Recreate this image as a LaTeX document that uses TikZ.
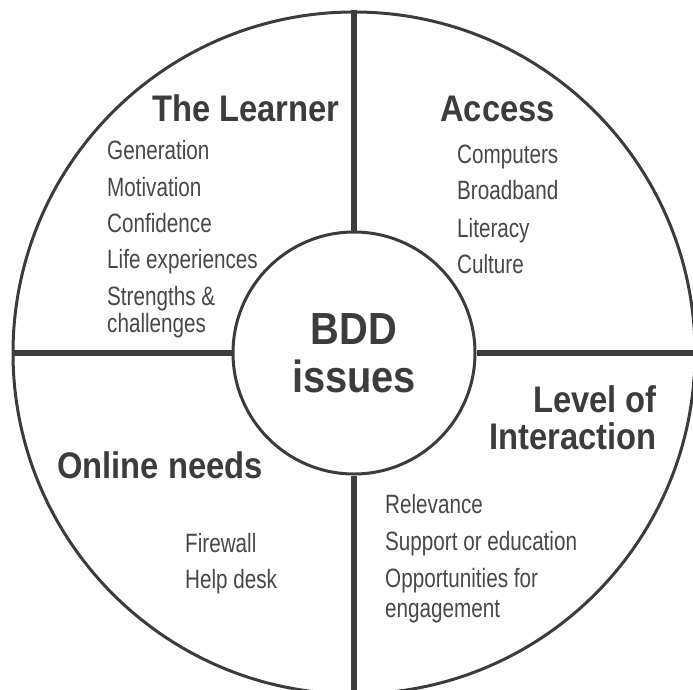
\documentclass[tikz,border=0pt]{standalone}
\usepackage{fontspec}
\usepackage{xcolor}
\setmainfont{Liberation Sans}
\newfontfamily\headfont[FakeStretch=0.885]{Liberation Sans}
\newfontfamily\itemfont[FakeStretch=0.78]{Liberation Sans}
\definecolor{ink}{HTML}{3C3C3C}
\definecolor{itemgray}{HTML}{484848}

\begin{document}
\begin{tikzpicture}[x=1pt,y=-1pt]
\tikzstyle{every node}+=[inner sep=0pt]
\tikzset{
  ring/.style={draw=ink, line width=3pt, circle},
  divider/.style={draw=ink, line width=5.5pt},
  head/.style={anchor=base west, text=ink, font=\headfont\bfseries\fontsize{37}{39}\selectfont},
  item/.style={anchor=base west, text=itemgray, font=\itemfont\fontsize{26.5}{30}\selectfont}
}
\useasboundingbox (0,0) rectangle (693,690);
% circles
\node [ring, minimum size=682pt] (outer) at (354,353) {};
\node [ring, minimum size=242pt, align=center, text=ink,
  font=\headfont\bfseries\fontsize{45}{48}\selectfont] (hub) at (354,353) {BDD\\issues};
% dividers
\draw [divider] (hub.north) -- (outer.north);
\draw [divider] (hub.south) -- (outer.south);
\draw [divider] (hub.west) -- (outer.west);
\draw [divider] (hub.east) -- (outer.east);
% the learner
\node [head] (learner) at (152,122) {The Learner};
\foreach \y/\t [count=\i] in {160/Generation, 196/Motivation, 232/Confidence,
  268/Life experiences, 305/Strengths \&, 332/challenges}
  \node [item] (learner\i) at (107,\y) {\t};
% access
\node [head] (access) at (440,122) {Access};
\foreach \y/\t [count=\i] in {163/Computers, 199/Broadband, 237/Literacy, 273/Culture}
  \node [item] (access\i) at (457,\y) {\t};
% level of interaction
\node [head, anchor=base east] (level) at (657,412) {Level of};
\node [head, anchor=base east] (interaction) at (657,449) {Interaction};
\foreach \y/\t [count=\i] in {513/Relevance, 550/Support or education,
  587/Opportunities for, 617/engagement}
  \node [item] (level\i) at (385,\y) {\t};
% online needs
\node [head] (online) at (57,478) {Online needs};
\foreach \y/\t [count=\i] in {552/Firewall, 588/Help desk}
  \node [item] (online\i) at (185,\y) {\t};
\end{tikzpicture}
\end{document}
